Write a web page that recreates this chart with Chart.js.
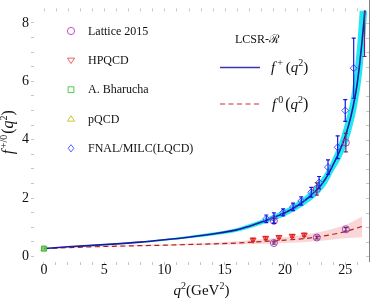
<!DOCTYPE html>
<html>
<head>
<meta charset="utf-8">
<script src="https://cdn.jsdelivr.net/npm/chart.js@4.4.1/dist/chart.umd.min.js"></script>
<style>
  html, body { margin: 0; padding: 0; background: #fff; }
  #wrap { width: 374px; height: 298px; }
</style>
</head>
<body>
<div id="wrap"><canvas id="c" width="374" height="298"></canvas></div>
<script>
// LCSR-R curve f+(q^2) with its band
const qPlus     = [0, 2, 4, 6, 8, 10, 12, 14, 16, 17, 18, 19, 20, 21, 22, 23, 23.5, 24, 24.5, 25, 25.5, 26, 26.4, 26.8];
const fPlus     = [0.27, 0.33, 0.38, 0.43, 0.49, 0.57, 0.66, 0.77, 0.91, 1.03, 1.17, 1.33, 1.50, 1.73, 2.03, 2.45, 2.75, 3.15, 3.58, 4.12, 4.85, 5.95, 7.39, 9.2];
const fPlusLow  = [0.26, 0.315, 0.36, 0.41, 0.465, 0.54, 0.62, 0.72, 0.85, 0.96, 1.09, 1.23, 1.39, 1.60, 1.87, 2.24, 2.52, 2.90, 3.25, 3.70, 4.30, 5.2, 6.3, 8.3];
const fPlusHigh = [0.28, 0.345, 0.40, 0.45, 0.515, 0.60, 0.70, 0.82, 0.97, 1.10, 1.25, 1.42, 1.61, 1.86, 2.19, 2.66, 2.98, 3.40, 3.90, 4.60, 5.5, 7.3, 9.8, 13];

// LCSR-R curve f0(q^2) with its band
const qZero     = [0, 4, 8, 10, 12, 14, 16, 18, 20, 22, 24, 25, 26.4];
const fZero     = [0.27, 0.33, 0.37, 0.385, 0.41, 0.43, 0.46, 0.51, 0.56, 0.63, 0.76, 0.85, 1.03];
const fZeroLow  = [0.26, 0.32, 0.355, 0.365, 0.38, 0.39, 0.41, 0.43, 0.46, 0.50, 0.58, 0.62, 0.66];
const fZeroHigh = [0.28, 0.345, 0.39, 0.41, 0.44, 0.47, 0.52, 0.59, 0.66, 0.77, 0.95, 1.08, 1.37];

// data points
const latPlusQ = [19.08, 22.64, 25.05, 26.6];
const latPlusF = [1.22, 2.31, 3.9, 8.9];
const latPlusE = [0.08, 0.21, 0.32, 2.05];
const latZeroQ = [19.08, 22.64, 25.05];
const latZeroF = [0.46, 0.65, 0.93];
const latZeroE = [0.04, 0.05, 0.06];
const hpqcdQ = [17.35, 18.4, 19.5, 20.6, 21.6];
const hpqcdF = [0.57, 0.63, 0.66, 0.70, 0.74];
const hpqcdE = [0.05, 0.05, 0.05, 0.05, 0.05];
const bharuchaQ = [0];
const bharuchaF = [0.27];
const pqcdQ = [0];
const pqcdF = [0.25];
const fnalQ = [18.45, 19.08, 19.85, 20.67, 21.35, 22.18, 22.83, 23.57, 24.37, 25.0, 25.7];
const fnalF = [1.29, 1.31, 1.51, 1.70, 1.90, 2.20, 2.53, 3.06, 3.74, 5.0, 6.45];
const fnalE = [0.13, 0.18, 0.12, 0.13, 0.14, 0.17, 0.21, 0.25, 0.39, 0.37, 1.03];

// ticks
const xTicks = [0,1,2,3,4,5,6,7,8,9,10,11,12,13,14,15,16,17,18,19,20,21,22,23,24,25,26];
const xLabels = [0, 5, 10, 15, 20, 25];
const yTicks = [0,0.5,1,1.5,2,2.5,3,3.5,4,4.5,5,5.5,6,6.5,7,7.5,8];
const yLabels = [0, 2, 4, 6, 8];

const serif = "'Liberation Serif', 'Times New Roman', serif";
const pts = (xs, ys) => xs.map((x, i) => ({ x: x, y: ys[i] }));

function marker(ctx, style, x, y, r, color, fill) {
    ctx.save();
    ctx.strokeStyle = color;
    ctx.fillStyle = fill || 'rgba(0,0,0,0)';
    ctx.lineWidth = 1;
    ctx.beginPath();
    if (style === 'circle') {
        ctx.arc(x, y, r, 0, Math.PI * 2);
    } else if (style === 'down') {
        ctx.moveTo(x - r, y - r * 0.6); ctx.lineTo(x + r, y - r * 0.6); ctx.lineTo(x, y + r * 0.9); ctx.closePath();
    } else if (style === 'up') {
        ctx.moveTo(x - r, y + r * 0.6); ctx.lineTo(x + r, y + r * 0.6); ctx.lineTo(x, y - r * 0.9); ctx.closePath();
    } else if (style === 'square') {
        ctx.rect(x - r * 0.8, y - r * 0.8, r * 1.6, r * 1.6);
    } else if (style === 'diamond') {
        ctx.moveTo(x, y - r); ctx.lineTo(x + r * 0.8, y); ctx.lineTo(x, y + r); ctx.lineTo(x - r * 0.8, y); ctx.closePath();
    }
    ctx.fill();
    ctx.stroke();
    ctx.restore();
}

// mixed text: parts {t, size, it, sup}
function rich(ctx, parts, x, y, align) {
    let w = 0;
    parts.forEach(p => {
        ctx.font = (p.it ? 'italic ' : '') + p.size + 'px ' + serif;
        p.w = ctx.measureText(p.t).width + (p.gap || 0);
        w += p.w;
    });
    let cx = align === 'center' ? x - w / 2 : x;
    parts.forEach(p => {
        ctx.font = (p.it ? 'italic ' : '') + p.size + 'px ' + serif;
        ctx.fillText(p.t, cx, y - (p.sup ? 6 : 0));
        cx += p.w;
    });
}

const decor = {
    id: 'decor',
    afterDatasetsDraw(chart) {
        const ctx = chart.ctx;
        const a = chart.chartArea;
        const xs = chart.scales.x, ys = chart.scales.y;

        // error bars
        ctx.save();
        ctx.beginPath();
        ctx.rect(a.left, a.top, a.right - a.left, a.bottom - a.top);
        ctx.clip();
        chart.data.datasets.forEach(ds => {
            if (!ds.errs) return;
            ctx.strokeStyle = ds.errColor;
            ctx.lineWidth = 1.2;
            ds.data.forEach((p, i) => {
                const px = xs.getPixelForValue(p.x);
                const y1 = ys.getPixelForValue(p.y - ds.errs[i]);
                const y2 = ys.getPixelForValue(p.y + ds.errs[i]);
                ctx.beginPath();
                ctx.moveTo(px, y1); ctx.lineTo(px, y2);
                ctx.moveTo(px - 2, y1); ctx.lineTo(px + 2, y1);
                ctx.moveTo(px - 2, y2); ctx.lineTo(px + 2, y2);
                ctx.stroke();
            });
        });
        ctx.restore();

        // frame: right line, top and right ticks
        ctx.save();
        ctx.strokeStyle = '#c8c8c8';
        ctx.lineWidth = 1;
        xTicks.forEach(v => {
            const px = Math.round(xs.getPixelForValue(v)) + 0.5;
            ctx.beginPath(); ctx.moveTo(px, a.top - 2); ctx.lineTo(px, a.top + 1); ctx.stroke();
        });
        yTicks.forEach(v => {
            const py = Math.round(ys.getPixelForValue(v)) + 0.5;
            ctx.beginPath(); ctx.moveTo(a.right - 3, py); ctx.lineTo(a.right, py); ctx.stroke();
        });
        ctx.strokeStyle = '#808080';
        ctx.beginPath(); ctx.moveTo(a.right + 0.5, 0); ctx.lineTo(a.right + 0.5, a.bottom); ctx.stroke();
        ctx.restore();

        // left legend (data sets)
        ctx.save();
        ctx.fillStyle = '#111';
        ctx.textBaseline = 'middle';
        ctx.font = '12px ' + serif;
        const rows = [31, 60.3, 89.7, 119, 148.3];
        chart.data.datasets.filter(ds => ds.legend).forEach((ds, i) => {
            marker(ctx, ds.legend, 71, rows[i], 3.6, ds.legendColor);
            ctx.fillStyle = '#111';
            ctx.fillText(ds.label, 88, rows[i] + 0.5);
        });
        ctx.restore();

        // right legend (LCSR curves)
        ctx.save();
        ctx.fillStyle = '#111';
        ctx.font = '12px ' + serif;
        ctx.fillText('LCSR-\u211B', 235, 43);
        ctx.strokeStyle = '#3434c0';
        ctx.lineWidth = 1.5;
        ctx.beginPath(); ctx.moveTo(220, 67.5); ctx.lineTo(260, 67.5); ctx.stroke();
        ctx.strokeStyle = '#c83030';
        ctx.lineWidth = 1.2;
        ctx.setLineDash([5, 3.5]);
        ctx.beginPath(); ctx.moveTo(220, 104); ctx.lineTo(260, 104); ctx.stroke();
        ctx.setLineDash([]);
        rich(ctx, [{ t: 'f', size: 15, it: true, gap: 2 }, { t: '+', size: 10, sup: true, gap: 3 },
                   { t: '(', size: 15 }, { t: 'q', size: 15, it: true }, { t: '2', size: 10, sup: true }, { t: ')', size: 15 }], 271, 72);
        rich(ctx, [{ t: 'f', size: 15, it: true, gap: 2 }, { t: '0', size: 10, sup: true, gap: 2 },
                   { t: '(', size: 16 }, { t: 'q', size: 15, it: true }, { t: '2', size: 10, sup: true }, { t: ')', size: 16 }], 272, 109);
        ctx.restore();

        // axis titles
        ctx.save();
        ctx.fillStyle = '#111';
        ctx.textBaseline = 'alphabetic';
        rich(ctx, [{ t: 'q', size: 15, it: true }, { t: '2', size: 10, sup: true }, { t: '(GeV', size: 15 },
                   { t: '2', size: 10, sup: true }, { t: ')', size: 15 }], (a.left + a.right) / 2, 295, 'center');
        ctx.translate(13, (a.top + a.bottom) / 2 - 4);
        ctx.rotate(-Math.PI / 2);
        rich(ctx, [{ t: 'f', size: 16, it: true, gap: 1.5 }, { t: '+/0', size: 10, sup: true, gap: 1 }, { t: '(', size: 16 },
                   { t: 'q', size: 16, it: true }, { t: '2', size: 10, sup: true }, { t: ')', size: 16 }], 0, 0, 'center');
        ctx.restore();
    }
};

const band = (xs, ys, color, fill) => ({
    data: pts(xs, ys), showLine: true, borderWidth: 0, pointRadius: 0,
    backgroundColor: color, fill: fill, order: 10, cubicInterpolationMode: 'monotone'
});
const markers = (label, xs, ys, errs, style, rot, color, errColor, fill, legend, legendColor) => ({
    label: label, data: pts(xs, ys), showLine: false, pointStyle: style, rotation: rot,
    pointRadius: 3.5, borderColor: color, backgroundColor: fill || 'rgba(0,0,0,0)', pointBorderWidth: 1,
    errs: errs, errColor: errColor, legend: legend, legendColor: legendColor, order: 1
});

new Chart(document.getElementById('c'), {
    type: 'scatter',
    data: {
        datasets: [
            band(qPlus, fPlusLow, '#22e8f2', false),
            band(qPlus, fPlusHigh, '#22e8f2', '-1'),
            band(qZero, fZeroLow, 'rgba(240,120,120,0.3)', false),
            band(qZero, fZeroHigh, 'rgba(240,120,120,0.3)', '-1'),
            { data: pts(qPlus, fPlus), showLine: true, borderColor: '#1a1a9c', borderWidth: 1.6,
              pointRadius: 0, order: 5, cubicInterpolationMode: 'monotone' },
            { data: pts(qZero, fZero), showLine: true, borderColor: '#b41e1e', borderWidth: 1.2, borderDash: [5, 3.5],
              pointRadius: 0, order: 5, cubicInterpolationMode: 'monotone' },
            markers('Lattice 2015', latPlusQ, latPlusF, latPlusE, 'circle', 0, '#a040b0', '#6a2878', null, 'circle', '#c050c8'),
            markers('', latZeroQ, latZeroF, latZeroE, 'circle', 0, '#a040b0', '#6a2878', null, null),
            markers('HPQCD', hpqcdQ, hpqcdF, hpqcdE, 'triangle', 180, '#e83030', '#e02020', 'rgba(232,48,48,0.6)', 'down', '#f06060'),
            markers('A. Bharucha', bharuchaQ, bharuchaF, null, 'rect', 0, '#3cb43c', null, 'rgba(90,200,90,0.7)', 'square', '#50c850'),
            markers('pQCD', pqcdQ, pqcdF, null, 'triangle', 0, '#c8c832', null, null, 'up', '#c8c832'),
            markers('FNAL/MILC(LQCD)', fnalQ, fnalF, fnalE, 'rectRot', 0, '#5050ff', '#1414e0', null, 'diamond', '#5a5aff')
        ]
    },
    options: {
        responsive: false,
        animation: false,
        layout: { padding: { top: 2, right: 2, left: 0, bottom: 0 } },
        plugins: { legend: { display: false }, tooltip: { enabled: false } },
        scales: {
            x: {
                type: 'linear', min: -0.82, max: 26.97,
                afterFit: s => { s.height = 36; },
                afterBuildTicks: s => { s.ticks = xTicks.map(v => ({ value: v })); },
                border: { display: false },
                grid: { drawOnChartArea: false, tickLength: 3, color: '#c8c8c8' },
                ticks: { autoSkip: false, maxRotation: 0, padding: -3, color: '#111',
                         font: { family: serif, size: 14 },
                         callback: v => xLabels.includes(v) ? String(v) : '' }
            },
            y: {
                type: 'linear', min: -0.19, max: 8.43,
                afterFit: s => { s.width = 34; },
                afterBuildTicks: s => { s.ticks = yTicks.map(v => ({ value: v })); },
                border: { display: false },
                grid: { drawOnChartArea: false, tickLength: 3, color: '#c8c8c8' },
                ticks: { autoSkip: false, padding: 2, color: '#111',
                         font: { family: serif, size: 14 },
                         callback: v => yLabels.includes(v) ? String(v) : '' }
            }
        }
    },
    plugins: [decor]
});
</script>
</body>
</html>
